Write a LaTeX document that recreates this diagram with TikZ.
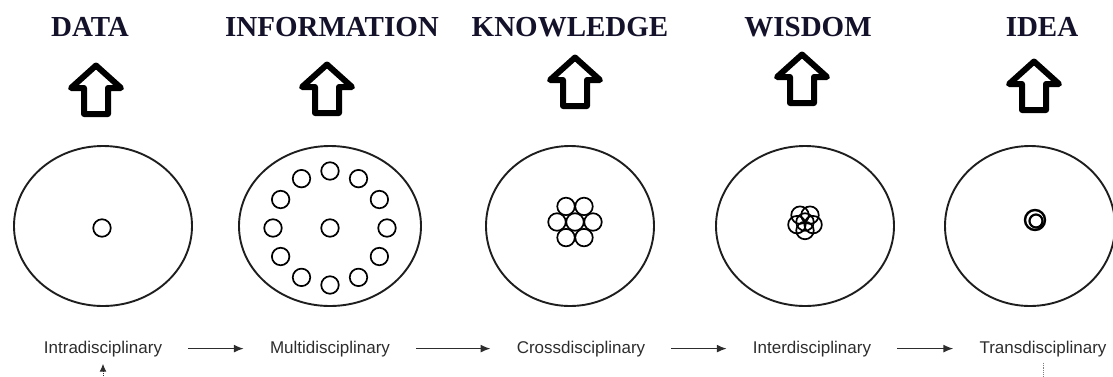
\documentclass[tikz,border=0pt]{standalone}
\usepackage{fontspec}
\setmainfont{Liberation Serif}
\setsansfont{Liberation Sans}
\usetikzlibrary{arrows.meta, positioning, shapes.geometric}
\definecolor{dNavy}  {RGB}{20,18,42}
\definecolor{dkGray} {RGB}{45,45,45}
\definecolor{rimGray}{RGB}{30,30,30}

\begin{document}
\begin{tikzpicture}[x=1pt, y=-1pt,
  TTL/.style={font=\bfseries\fontsize{29}{29}\selectfont, text=dNavy, anchor=base, inner sep=0},
  LBL/.style={font=\sffamily\fontsize{17}{17}\selectfont, text=dkGray, anchor=base, inner sep=0},
  BIG/.style={ellipse, draw=rimGray, line width=1.9pt, minimum width=178pt, minimum height=160pt, inner sep=0},
  DOT/.style={circle, draw=black, line width=1.7pt, minimum size=17.5pt, inner sep=0},
  ARR/.style={-{Latex[length=10pt,width=8pt]}, line width=1.5pt, dkGray, shorten <=26pt, shorten >=26pt},
  UPBIG/.pic={\draw[line width=6pt, line join=round, fill=white] (0,4.5) -- (25,27) -- (12,27) -- (12,53) -- (-12,53) -- (-12,27) -- (-25,27) -- cycle;}]
    \useasboundingbox (0,0) rectangle (1113,376);

    \node[TTL] (tdata) at (90,36) {DATA};
    \node[TTL] (tinfo) at (332,36) {INFORMATION};
    \node[TTL] (tknow) at (570,36) {KNOWLEDGE};
    \node[TTL] (twis)  at (808,36) {WISDOM};
    \node[TTL] (tidea) at (1042,36) {IDEA};

    \pic at (96,61)   {UPBIG};
    \pic at (327,60)  {UPBIG};
    \pic at (575,53)  {UPBIG};
    \pic at (802,50)  {UPBIG};
    \pic at (1034,57) {UPBIG};

    \node[BIG] (c1) at (103,226) {};
    \node[BIG, minimum width=182pt] (c2) at (330,226) {};
    \node[BIG, minimum width=168pt] (c3) at (570,226) {};
    \node[BIG] (c4) at (805,226) {};
    \node[BIG, minimum width=170pt] (c5) at (1030,226) {};

    % intra
    \node[DOT] (a0) at (102,228) {};
    % multi
    \node[DOT] (b0) at (330,228) {};
    \foreach \a [count=\i] in {0,30,...,330} \node[DOT] (b\i) at ([shift={(\a:57)}]b0) {};
    % cross
    \node[DOT] (k0) at (575,222) {};
    \foreach \a [count=\i] in {0,60,...,300} \node[DOT] (k\i) at ([shift={(\a:18)}]k0) {};
    % inter
    \node[DOT] (w0) at (805,222) {};
    \foreach \a [count=\i] in {90,162,234,306,18} \node[DOT] (w\i) at ([shift={(\a:8.5)}]w0) {};
    % trans
    \node[DOT, minimum size=20pt, line width=2.4pt] (i0) at (1035,220) {};
    \node[DOT, minimum size=13pt, line width=2.2pt] (i1) at (1036,221) {};

    \node[LBL] (intra) at (103,353)  {Intradisciplinary};
    \node[LBL] (multi) at (330,353)  {Multidisciplinary};
    \node[LBL] (cross) at (581,353)  {Crossdisciplinary};
    \node[LBL] (inter) at (812,353)  {Interdisciplinary};
    \node[LBL] (trans) at (1043,353) {Transdisciplinary};
    \draw[ARR] (intra) -- (multi); \draw[ARR] (multi) -- (cross); \draw[ARR] (cross) -- (inter); \draw[ARR] (inter) -- (trans);

    \coordinate (src) at (103,380);
    \coordinate (tend) at (1043,380);
    \draw[dkGray, densely dotted, line width=1pt, -{Latex[length=8pt,width=7pt]}, shorten >=7pt] (src) -- (intra.south);
    \draw[gray, densely dotted, line width=0.9pt, shorten <=6pt] (trans.south) -- (tend);
\end{tikzpicture}
\end{document}
